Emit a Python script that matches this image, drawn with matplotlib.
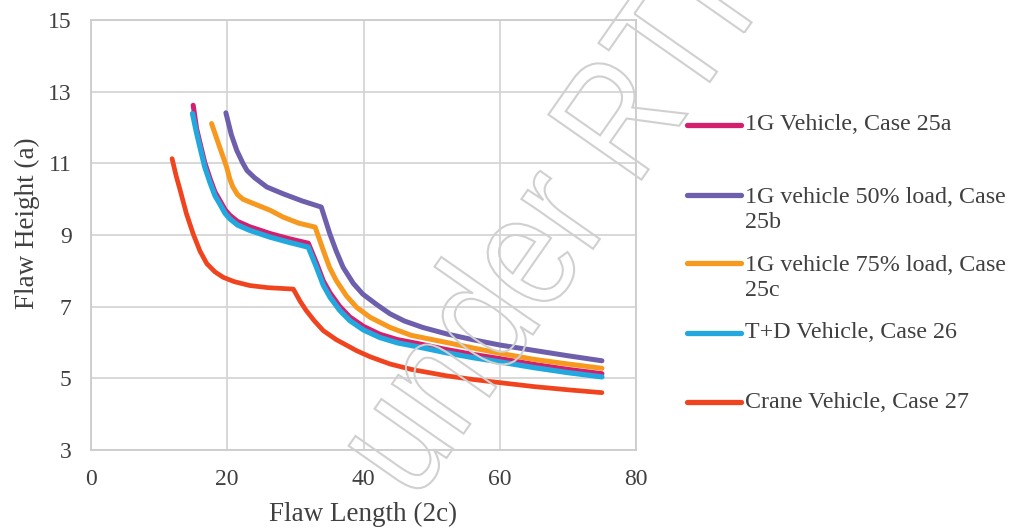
import matplotlib
matplotlib.use("Agg")
import matplotlib.pyplot as plt
from matplotlib.lines import Line2D
from matplotlib.textpath import TextPath
from matplotlib.patches import PathPatch
from matplotlib.font_manager import FontProperties
from matplotlib.transforms import Affine2D, IdentityTransform

plt.rcParams['font.family'] = ['Liberation Serif', 'DejaVu Serif']

# ---- data ----
x_25a = [15.0, 15.5, 16.0, 16.7, 17.5, 18.2, 18.9, 19.7, 20.4, 21.5, 23.3, 26.3, 29.0, 31.9,
         33.1, 34.1, 35.1, 36.5, 38.0, 40.0, 42.4, 45.0, 48.0, 52.0, 56.0, 60.0, 65.0, 70.0, 75.0]
y_25a = [12.62, 11.97, 11.57, 11.02, 10.56, 10.2, 9.97, 9.7, 9.55, 9.38, 9.23, 9.04, 8.9, 8.77,
         8.22, 7.72, 7.38, 7.01, 6.71, 6.45, 6.23, 6.08, 5.97, 5.81, 5.67, 5.55, 5.39, 5.25, 5.13]

x_25b = [19.8, 20.6, 21.4, 22.3, 22.9, 24.0, 25.8, 28.2, 31.0, 33.8, 35.06, 36.0, 37.0, 38.5,
         39.9, 42.0, 43.9, 46.0, 48.7, 52.2, 56.0, 60.0, 65.0, 70.0, 75.0]
y_25b = [12.41, 11.8, 11.36, 11.0, 10.8, 10.6, 10.34, 10.15, 9.95, 9.78, 9.03, 8.55, 8.1, 7.65,
         7.35, 7.05, 6.8, 6.6, 6.42, 6.24, 6.08, 5.93, 5.78, 5.63, 5.49]

x_25c = [17.7, 18.8, 19.9, 20.4, 20.8, 21.5, 22.3, 23.3, 26.3, 28.2, 30.5, 32.9, 34.1, 35.0,
         36.0, 37.5, 39.0, 41.0, 43.9, 47.0, 52.2, 56.0, 60.0, 65.0, 70.0, 75.0]
y_25c = [12.11, 11.5, 10.9, 10.55, 10.35, 10.13, 10.0, 9.92, 9.69, 9.5, 9.33, 9.22, 8.57, 8.1,
         7.73, 7.3, 6.98, 6.7, 6.42, 6.2, 6.0, 5.85, 5.7, 5.53, 5.4, 5.28]

x_26 = [14.9, 15.5, 16.0, 16.7, 17.5, 18.2, 18.9, 19.7, 20.4, 21.5, 23.3, 26.3, 29.0, 31.9,
        33.1, 34.1, 35.1, 36.5, 38.0, 40.0, 42.4, 45.0, 48.0, 52.0, 56.0, 60.0, 65.0, 70.0, 75.0]
y_26 = [12.39, 11.85, 11.45, 10.9, 10.45, 10.1, 9.87, 9.6, 9.45, 9.28, 9.13, 8.94, 8.8, 8.66,
        8.1, 7.6, 7.26, 6.9, 6.61, 6.35, 6.14, 5.99, 5.88, 5.72, 5.58, 5.46, 5.3, 5.16, 5.04]

x_27 = [11.9, 12.5, 13.1, 14.0, 15.0, 16.0, 17.0, 18.2, 19.4, 21.0, 23.3, 26.0, 29.7, 30.7,
        31.6, 32.8, 34.1, 36.0, 39.0, 41.0, 43.9, 47.0, 52.2, 56.0, 60.0, 65.0, 70.0, 75.0]
y_27 = [11.13, 10.65, 10.24, 9.6, 9.03, 8.55, 8.2, 7.97, 7.82, 7.7, 7.59, 7.53, 7.49, 7.15,
        6.89, 6.6, 6.33, 6.08, 5.77, 5.6, 5.4, 5.25, 5.07, 4.97, 4.88, 4.77, 4.68, 4.6]

labels = ["1G Vehicle, Case 25a", "1G vehicle 50% load, Case\n25b",
          "1G vehicle 75% load, Case\n25c", "T+D Vehicle, Case 26", "Crane Vehicle, Case 27"]
colors = ["#D41F6E", "#6E5FAD", "#F7991F", "#22A8DE", "#F0441F"]

x_ticks = [0, 20, 40, 60, 80]
y_ticks = [3, 5, 7, 9, 11, 13, 15]

series = [(x_25a, y_25a), (x_25b, y_25b), (x_25c, y_25c), (x_26, y_26), (x_27, y_27)]
widths = [3.6, 3.6, 3.6, 3.8, 3.4]

W, H = 1011, 531
fig = plt.figure(figsize=(W / 100, H / 100), dpi=100)
ax = fig.add_axes([91 / W, 1 - 450 / H, (636 - 91) / W, (450 - 20) / H])

for (xs, ys), c, lw in zip(series, colors, widths):
    ax.plot(xs, ys, color=c, lw=lw, solid_capstyle='round', solid_joinstyle='round')

ax.set_xlim(0, 80)
ax.set_ylim(3, 15)
ax.set_xticks(x_ticks)
ax.set_yticks(y_ticks)
ax.grid(True, color='#d6d6d6', lw=1.3)
ax.set_axisbelow(True)
for s in ax.spines.values():
    s.set_color('#cccccc')
    s.set_linewidth(1.3)
ax.tick_params(length=0, labelsize=17, labelcolor='#404040')
ax.tick_params(axis='y', pad=14)
ax.tick_params(axis='x', pad=14)
ax.set_xlabel("Flaw Length (2c)", fontsize=19.5, color='#404040')
ax.set_ylabel("Flaw Height (a)", fontsize=19.5, color='#404040')
ax.xaxis.set_label_coords((363 - 91) / (636 - 91), -(502 - 450) / (450 - 20), transform=ax.transAxes)
ax.yaxis.set_label_coords(-(91 - 40) / (636 - 91), (450 - 223) / (450 - 20), transform=ax.transAxes)

# manual legend (pixel positions)
handle_y = [125, 195, 263, 333, 402]
for lab, c, hy in zip(labels, colors, handle_y):
    fy = 1 - hy / H
    fig.add_artist(Line2D([687 / W, 741 / W], [fy, fy], color=c, lw=3.8,
                          solid_capstyle='round', transform=fig.transFigure))
    if "\n" in lab:
        fig.text(745 / W, 1 - (hy + 15) / H, lab, va='center', ha='left', fontsize=17.3,
                 color='#404040', linespacing=1.25)
    else:
        fig.text(745 / W, fy, lab, va='center', ha='left', fontsize=17.3, color='#404040')

# watermark outline (narrow sans, rotated)
tp = TextPath((0, 0), "under RTI", size=165, prop=FontProperties(family='Liberation Sans'))
tr = Affine2D().scale(0.82, 1.0).rotate_deg(55).translate(415, 28)
wm = PathPatch(tr.transform_path(tp), facecolor='none', edgecolor='#d0d0d0', lw=1.5,
               transform=IdentityTransform(), zorder=10)
fig.add_artist(wm)

fig.savefig("out.png", dpi=100)
